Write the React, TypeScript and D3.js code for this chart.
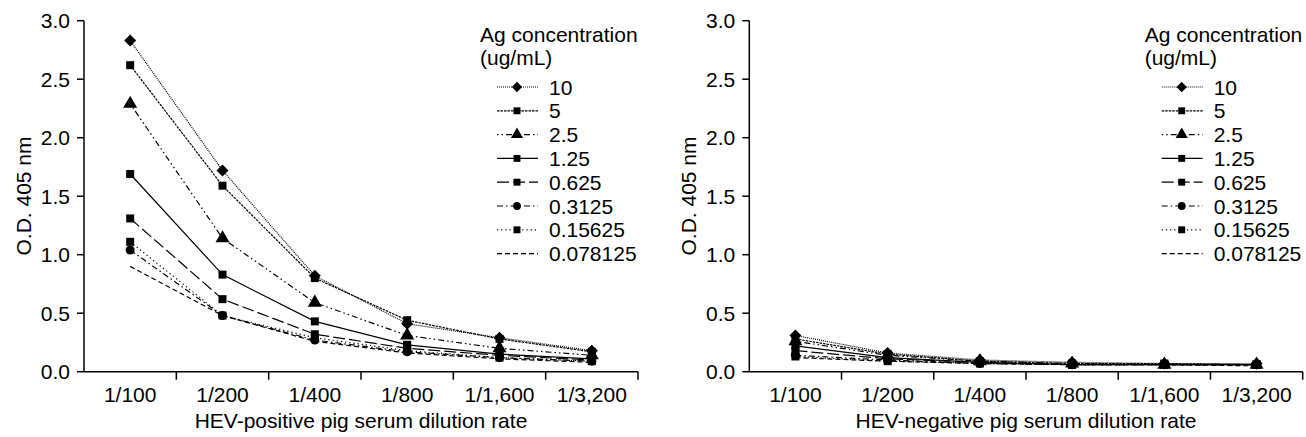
import React from 'react';
import * as d3 from 'd3';

// dilution steps on the x axis
const dilutions = ['1/100', '1/200', '1/400', '1/800', '1/1,600', '1/3,200'];
const concentrations = ['10', '5', '2.5', '1.25', '0.625', '0.3125', '0.15625', '0.078125'];
const yTicks = [0, 0.5, 1, 1.5, 2, 2.5, 3];

// HEV-positive serum, O.D. 405 nm per concentration
const pos10 = [2.83, 1.72, 0.82, 0.41, 0.29, 0.18];
const pos5 = [2.62, 1.59, 0.8, 0.44, 0.28, 0.17];
const pos2_5 = [2.29, 1.14, 0.59, 0.31, 0.2, 0.14];
const pos1_25 = [1.69, 0.83, 0.43, 0.23, 0.15, 0.11];
const pos0_625 = [1.31, 0.62, 0.32, 0.2, 0.14, 0.1];
const pos0_3125 = [1.04, 0.48, 0.27, 0.17, 0.12, 0.09];
const pos0_15625 = [1.11, 0.48, 0.29, 0.18, 0.12, 0.09];
const pos0_078125 = [0.9, 0.48, 0.26, 0.16, 0.11, 0.08];

// HEV-negative serum
const neg10 = [0.31, 0.16, 0.1, 0.08, 0.07, 0.07];
const neg5 = [0.28, 0.15, 0.09, 0.07, 0.07, 0.06];
const neg2_5 = [0.26, 0.14, 0.09, 0.07, 0.06, 0.06];
const neg1_25 = [0.22, 0.12, 0.08, 0.06, 0.06, 0.06];
const neg0_625 = [0.18, 0.11, 0.08, 0.06, 0.06, 0.06];
const neg0_3125 = [0.14, 0.1, 0.07, 0.06, 0.06, 0.06];
const neg0_15625 = [0.13, 0.09, 0.07, 0.06, 0.06, 0.06];
const neg0_078125 = [0.12, 0.09, 0.07, 0.06, 0.06, 0.05];

const positive = [pos10, pos5, pos2_5, pos1_25, pos0_625, pos0_3125, pos0_15625, pos0_078125];
const negative = [neg10, neg5, neg2_5, neg1_25, neg0_625, neg0_3125, neg0_15625, neg0_078125];

// line style per concentration
const dashes = ['1,1', '2.5,1', '1.5,3,1.5,3,6,3', null, '12,4', '6,3,1.5,3', '1.2,3', '5,3'];
// 'diamond' = square turned 45deg
const symbols = ['diamond', 'square', 'triangle', 'square', 'square', 'circle', 'square', null];
const symSize: Record<string, number> = { diamond: 72, square: 64, triangle: 85, circle: 64 };

const FONT = '"Liberation Sans", Arial, Helvetica, sans-serif';
const FS = 21;
const yScale = d3.scaleLinear().domain([0, 3]).range([371.7, 20.7]);

const markerPath = (kind: string, k = 1) => {
    const type = kind === 'triangle' ? d3.symbolTriangle : kind === 'circle' ? d3.symbolCircle : d3.symbolSquare;
    return d3.symbol(type, symSize[kind] * k)() as string;
};

const Marker = ({ kind, x, y, k = 1 }: { kind: string; x: number; y: number; k?: number }) => (
    <path transform={`translate(${x},${y})${kind === 'diamond' ? ' rotate(45)' : ''}`}
        d={markerPath(kind, k)} fill="#000" />
);

const Panel = ({ x0, x1, series, title }: { x0: number; x1: number; series: number[][]; title: string }) => {
    const x = d3.scaleBand().domain(dilutions).range([x0, x1]);
    const cx = (d: string) => (x(d) as number) + x.bandwidth() / 2;
    const y0 = yScale(0);
    const line = d3.line<number>().x((_, i) => cx(dilutions[i])).y(v => yScale(v));
    const lgX = x1 - 158;

    return (
        <g>
            {/* y axis */}
            <line x1={x0} x2={x0} y1={y0} y2={yScale(3)} stroke="#000" strokeWidth={1.5} />
            {yTicks.map(t => (
                <g key={t}>
                    <line x1={x0 - 7} x2={x0} y1={yScale(t)} y2={yScale(t)} stroke="#000" strokeWidth={1.5} />
                    <text x={x0 - 14} y={yScale(t)} dy="0.36em" textAnchor="end" fontSize={FS}>{t.toFixed(1)}</text>
                </g>
            ))}
            <text transform={`translate(${x0 - 53},196) rotate(-90)`} textAnchor="middle" fontSize={FS}>O.D. 405 nm</text>

            {/* x axis */}
            <line x1={x0} x2={x1} y1={y0} y2={y0} stroke="#000" strokeWidth={1.5} />
            {dilutions.map(d => (
                <g key={d}>
                    <line x1={(x(d) as number) + x.bandwidth()} x2={(x(d) as number) + x.bandwidth()}
                        y1={y0} y2={y0 + 8} stroke="#000" strokeWidth={1.5} />
                    <text x={cx(d)} y={402} textAnchor="middle" fontSize={FS}>{d}</text>
                </g>
            ))}
            <text x={(x0 + x1) / 2} y={428} textAnchor="middle" fontSize={FS}>{title}</text>

            {/* series */}
            {series.map((s, i) => (
                <path key={'l' + i} d={line(s) as string} fill="none" stroke="#000" strokeWidth={1.2}
                    strokeDasharray={dashes[i] ?? undefined} />
            ))}
            {series.map((s, i) => symbols[i] ? s.map((v, j) => (
                <Marker key={`m${i}-${j}`} kind={symbols[i] as string} x={cx(dilutions[j])} y={yScale(v)} />
            )) : null)}

            {/* legend */}
            <text x={lgX} y={42} fontSize={FS}>Ag concentration</text>
            <text x={lgX} y={65} fontSize={FS}>(ug/mL)</text>
            {concentrations.map((c, i) => {
                const ly = 87 + i * 23.8;
                return (
                    <g key={c}>
                        <line x1={lgX + 17} x2={lgX + 58} y1={ly} y2={ly} stroke="#000" strokeWidth={1.2}
                            strokeDasharray={dashes[i] ?? undefined} />
                        {symbols[i] && <Marker kind={symbols[i] as string} x={lgX + 37} y={ly} k={0.75} />}
                        <text x={lgX + 69} y={ly} dy="0.36em" fontSize={FS}>{c}</text>
                    </g>
                );
            })}
        </g>
    );
};

export default function App() {
    return (
        <div style={{ position: 'absolute', left: 0, top: 0 }}>
            <svg width={1306} height={437} style={{ display: 'block', background: '#fff', fontFamily: FONT }}>
                <Panel x0={84} x1={638} series={positive} title="HEV-positive pig serum dilution rate" />
                <Panel x0={749.3} x1={1302.7} series={negative} title="HEV-negative pig serum dilution rate" />
            </svg>
        </div>
    );
}
